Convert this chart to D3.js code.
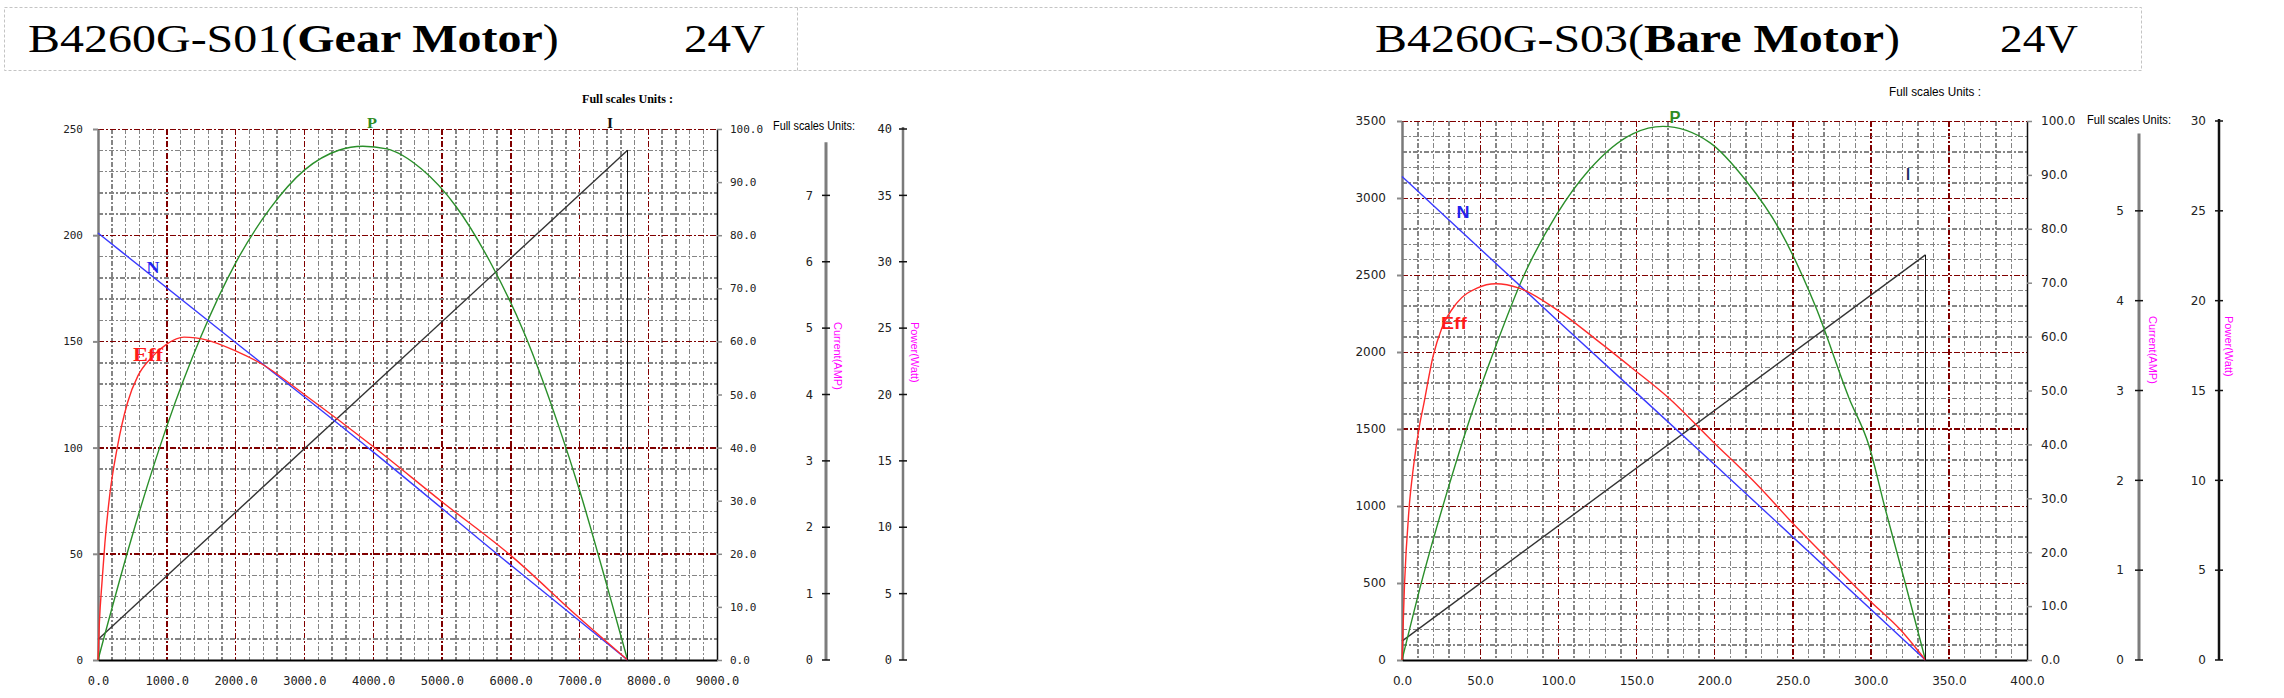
<!DOCTYPE html>
<html>
<head>
<meta charset="utf-8">
<script src="https://cdn.jsdelivr.net/npm/d3@7"></script>
<style>
body { margin: 0; background: #fff; }
svg { display: block; }
</style>
</head>
<body>
<script>
var w = 2284;
var h = 698;

// B4260G-S01 gear motor, x = torque
var gearSpeed = [[0, 201], [2000, 149.5], [4000, 98], [6000, 44.7], [7700, 0]];
var gearEff = [[0, 0], [20, 7], [60, 15], [100, 22], [170, 31], [280, 40], [430, 48.5], [580, 53.5],
    [780, 57], [1000, 59.5], [1250, 60.8], [1600, 60.2], [2000, 58.2], [2400, 55.6], [3000, 50],
    [4000, 40.2], [5000, 29.8], [6000, 19.7], [7000, 7.9], [7700, 0]];
var gearPower = [[0, 0], [500, 9.4], [1000, 17.6], [1500, 24.4], [2000, 29.9], [2500, 34], [3000, 36.9],
    [3500, 38.4], [3850, 38.7], [4200, 38.5], [4700, 37], [5200, 34.2], [5700, 30], [6200, 24.6],
    [6700, 17.6], [7000, 12.8], [7400, 5.6], [7700, 0]];
var gearCurrent = [[0, 0.31], [7700, 7.68]];

// B4260G-S03 bare motor
var bareSpeed = [[0, 3140], [100, 2200], [200, 1270], [335, 0]];
var bareEff = [[0, 0], [1.6, 14], [4.5, 28], [7.4, 36], [11.5, 44], [13.6, 47], [20, 56.5], [25.4, 61.5],
    [35, 66.2], [48, 69], [60, 69.8], [75, 69], [99, 65], [124.5, 59.4], [148, 54], [170, 48.8],
    [199, 40.5], [229, 32], [249, 25.7], [271, 19.2], [299, 11.1], [319, 5.6], [335, 0]];
var barePower = [[0, 0], [13, 4.5], [29, 9.4], [48, 14.6], [58, 17], [78, 21.4], [99, 24.8], [120, 27.3],
    [148, 29.3], [167, 29.7], [197, 28.8], [220, 26.7], [242, 23.9], [265, 19.6], [286, 14.6],
    [299, 11.9], [309, 8.5], [322, 4.3], [335, 0]];
var bareCurrent = [[0, 0.21], [335, 4.51]];

// tick labels
var gearTorqueTicks = [0, 1000, 2000, 3000, 4000, 5000, 6000, 7000, 8000, 9000];
var gearSpeedTicks = [0, 50, 100, 150, 200, 250];
var gearCurrentTicks = [0, 1, 2, 3, 4, 5, 6, 7];
var gearPowerTicks = [0, 5, 10, 15, 20, 25, 30, 35, 40];
var bareTorqueTicks = [0, 50, 100, 150, 200, 250, 300, 350, 400];
var bareSpeedTicks = [0, 500, 1000, 1500, 2000, 2500, 3000, 3500];
var bareCurrentTicks = [0, 1, 2, 3, 4, 5];
var barePowerTicks = [0, 5, 10, 15, 20, 25, 30];
var pctTicks = [0, 10, 20, 30, 40, 50, 60, 70, 80, 90, 100];

var charts = [
    {
        title: ["B4260G-S01(", "Gear Motor", ")"], titleX: 28, titleW: 531, voltX: 684, voltW: 81,
        left: 98, right: 717, top: 129, bottom: 660,
        xMax: 9000, xTicks: gearTorqueTicks, xMinor: 200, xMajor: 1000,
        yMax: 250, yTicks: gearSpeedTicks, yMinor: 10, yMajor: 50,
        curMax: 8, curTop: 7.8, curTicks: gearCurrentTicks, curX: 826, curLab: 13, curRot: 8,
        powMax: 40, powTicks: gearPowerTicks, powX: 903, powLab: 11, powRot: 8, powColor: "#7a7a7a",
        speed: gearSpeed, eff: gearEff, power: gearPower, current: gearCurrent,
        numFont: "DejaVu Sans Mono", numSize: 11, sideSize: 12, pctPad: 8, leftPad: 10,
        nameFont: "Liberation Serif",
        names: { N: [153, 273, 17, 13], Eff: [148, 361, 18, 30], P: [372, 128, 15, 10], I: [610, 128, 15, 6] },
        units1: [582, 103, 91, "Liberation Serif", "bold"], units2: [773, 130, 82],
        rotY: 322
    },
    {
        title: ["B4260G-S03(", "Bare Motor", ")"], titleX: 1375, titleW: 525, voltX: 2000, voltW: 78,
        left: 1402, right: 2027, top: 121, bottom: 660,
        xMax: 400, xTicks: bareTorqueTicks, xMinor: 10, xMajor: 50,
        yMax: 3500, yTicks: bareSpeedTicks, yMinor: 100, yMajor: 500,
        curMax: 6, curTop: 5.86, curTicks: bareCurrentTicks, curX: 2139, curLab: 15, curRot: 10,
        powMax: 30, powTicks: barePowerTicks, powX: 2219, powLab: 13, powRot: 6, powColor: "#111",
        speed: bareSpeed, eff: bareEff, power: barePower, current: bareCurrent,
        numFont: "DejaVu Sans", numSize: 12, sideSize: 12, pctPad: 9, leftPad: 11,
        nameFont: "Liberation Sans",
        names: { N: [1463, 218, 16, 13], Eff: [1454, 329, 17, 26], P: [1675, 123, 16, 11], I: [1908, 180, 16, 4] },
        units1: [1889, 96, 92, "Liberation Sans", "normal"], units2: [2087, 124, 84],
        rotY: 316
    }
];

var svg = d3.select("body")
    .append("svg")
    .attr("width", w)
    .attr("height", h);

// header box
svg.append("rect")
    .attr("x", 4.5).attr("y", 7.5).attr("width", 2137).attr("height", 63)
    .attr("fill", "none").attr("stroke", "#c4c4c4").attr("stroke-dasharray", "3,2");
svg.append("line")
    .attr("x1", 797.5).attr("x2", 797.5).attr("y1", 7.5).attr("y2", 70.5)
    .attr("stroke", "#c4c4c4").attr("stroke-dasharray", "3,2");

function fitWidth(sel, x, y, target) {
    var len = sel.node().getComputedTextLength();
    sel.attr("transform", "translate(" + x + "," + y + ") scale(" + (target / len) + ",1)");
}

function snap(p, thick) {
    return thick ? Math.round(p) : Math.floor(p) + 0.5;
}

charts.forEach(function(c) {
    var x = d3.scaleLinear().domain([0, c.xMax]).range([c.left, c.right]);
    var y = d3.scaleLinear().domain([0, c.yMax]).range([c.bottom, c.top]);
    var yPct = d3.scaleLinear().domain([0, 100]).range([c.bottom, c.top]);
    var yCur = d3.scaleLinear().domain([0, c.curMax]).range([c.bottom, c.top]);
    var yPow = d3.scaleLinear().domain([0, c.powMax]).range([c.bottom, c.top]);

    // title
    var t = svg.append("text")
        .attr("font-family", "Liberation Serif").attr("font-size", 41).attr("fill", "#000");
    t.append("tspan").text(c.title[0]);
    t.append("tspan").attr("font-weight", "bold").text(c.title[1]);
    t.append("tspan").text(c.title[2]);
    fitWidth(t, c.titleX, 52, c.titleW);
    var v = svg.append("text")
        .attr("font-family", "Liberation Serif").attr("font-size", 41).text("24V");
    fitWidth(v, c.voltX, 52, c.voltW);

    var g = svg.append("g");

    // grid: vertical
    var vx = d3.range(1, Math.round(c.xMax / c.xMinor)).map(function(i) { return i * c.xMinor; });
    g.append("g").selectAll("line")
        .data(vx)
        .enter().append("line")
        .each(function(d) {
            var p = x(d), thick = (p % 1) > 0.6, major = d % c.xMajor === 0;
            d3.select(this)
                .attr("x1", snap(p, thick)).attr("x2", snap(p, thick))
                .attr("y1", c.top).attr("y2", c.bottom)
                .attr("stroke", major ? "#800000" : "#858585")
                .attr("stroke-width", thick ? 2 : 1)
                .attr("stroke-dasharray", major ? "6,2,2,2" : "5,2,2,2");
        });

    // grid: horizontal
    var hy = d3.range(1, Math.round(c.yMax / c.yMinor) + 1).map(function(i) { return i * c.yMinor; });
    g.append("g").selectAll("line")
        .data(hy)
        .enter().append("line")
        .each(function(d) {
            var p = y(d), thick = (p % 1) > 0.6, major = d % c.yMajor === 0;
            d3.select(this)
                .attr("y1", snap(p, thick)).attr("y2", snap(p, thick))
                .attr("x1", c.left).attr("x2", c.right)
                .attr("stroke", major ? "#800000" : "#858585")
                .attr("stroke-width", thick ? 2 : 1)
                .attr("stroke-dasharray", major ? "6,2,2,2" : "5,2,2,2");
        });

    // left axis
    var la = g.append("g")
        .attr("transform", "translate(" + c.left + ",0)")
        .call(d3.axisLeft(y).tickValues(c.yTicks).tickSize(5).tickSizeOuter(0)
            .tickPadding(c.leftPad).tickFormat(d3.format("d")));
    la.select(".domain").attr("stroke", "#7a7a7a").attr("stroke-width", 2.5);
    la.selectAll(".tick line").attr("stroke", "#8a8a8a").attr("stroke-width", 2);

    // bottom axis
    var ba = g.append("g")
        .attr("transform", "translate(0," + c.bottom + ")")
        .call(d3.axisBottom(x).tickValues(c.xTicks).tickSize(0).tickSizeOuter(0)
            .tickPadding(16).tickFormat(d3.format(".1f")));
    ba.select(".domain").attr("stroke", "#000").attr("stroke-width", 2);

    // right percentage axis
    var ra = g.append("g")
        .attr("transform", "translate(" + c.right + ",0)")
        .call(d3.axisRight(yPct).tickValues(pctTicks).tickSize(5).tickSizeOuter(0)
            .tickPadding(c.pctPad).tickFormat(d3.format(".1f")));
    ra.select(".domain").attr("stroke", "#111").attr("stroke-width", 1.5);
    ra.selectAll(".tick line").attr("stroke", "#8a8a8a").attr("stroke-width", 1.5);

    [la, ra].forEach(function(a) {
        a.selectAll("text").attr("font-family", c.numFont).attr("font-size", c.numSize).attr("fill", "#222");
    });
    ba.selectAll("text").attr("font-family", c.numFont).attr("font-size", 12).attr("fill", "#222");

    // current axis
    g.append("line")
        .attr("x1", c.curX).attr("x2", c.curX)
        .attr("y1", yCur(0)).attr("y2", yCur(c.curTop))
        .attr("stroke", "#7d7d7d").attr("stroke-width", 3);
    var ct = g.append("g").selectAll("g")
        .data(c.curTicks)
        .enter().append("g")
        .attr("transform", function(d) { return "translate(" + c.curX + "," + yCur(d) + ")"; });
    ct.append("line").attr("x1", -4).attr("x2", 4).attr("stroke", "#111").attr("stroke-width", 1.5);
    ct.append("text")
        .attr("x", -c.curLab).attr("dy", "0.35em").attr("text-anchor", "end")
        .attr("font-family", c.numFont).attr("font-size", c.sideSize).attr("fill", "#222")
        .text(function(d) { return d; });

    // power axis
    g.append("line")
        .attr("x1", c.powX).attr("x2", c.powX)
        .attr("y1", yPow(0)).attr("y2", yPow(c.powMax) - 2)
        .attr("stroke", c.powColor).attr("stroke-width", 2.5);
    var pt = g.append("g").selectAll("g")
        .data(c.powTicks)
        .enter().append("g")
        .attr("transform", function(d) { return "translate(" + c.powX + "," + yPow(d) + ")"; });
    pt.append("line").attr("x1", -4).attr("x2", 4).attr("stroke", "#111").attr("stroke-width", 1.5);
    pt.append("text")
        .attr("x", -c.powLab).attr("dy", "0.35em").attr("text-anchor", "end")
        .attr("font-family", c.numFont).attr("font-size", c.sideSize).attr("fill", "#222")
        .text(function(d) { return d; });

    // rotated unit labels
    [["Current(AMP)", c.curX + c.curRot], ["Power(Watt)", c.powX + c.powRot]].forEach(function(r) {
        svg.append("text")
            .attr("transform", "translate(" + r[1] + "," + c.rotY + ") rotate(90)")
            .attr("font-family", "Liberation Sans").attr("font-size", 11)
            .attr("fill", "#ff00ff")
            .text(r[0]);
    });

    // "Full scales Units" captions
    svg.append("text")
        .attr("x", c.units1[0]).attr("y", c.units1[1])
        .attr("font-family", c.units1[3]).attr("font-weight", c.units1[4]).attr("font-size", 12)
        .attr("textLength", c.units1[2]).attr("lengthAdjust", "spacingAndGlyphs")
        .text("Full scales Units :");
    svg.append("text")
        .attr("x", c.units2[0]).attr("y", c.units2[1])
        .attr("font-family", "Liberation Sans").attr("font-size", 12)
        .attr("textLength", c.units2[2]).attr("lengthAdjust", "spacingAndGlyphs")
        .text("Full scales Units:");

    // curves
    function curve(data, ys, color) {
        var line = d3.line()
            .x(function(d) { return x(d[0]); })
            .y(function(d) { return ys(d[1]); })
            .curve(d3.curveMonotoneX);
        g.append("path")
            .datum(data)
            .attr("d", line)
            .attr("fill", "none")
            .attr("stroke", color)
            .attr("stroke-width", 1.4);
    }
    curve(c.current, yCur, "#333");
    curve(c.power, yPow, "#2a8f2a");
    curve(c.speed, y, "#3a3aff");
    curve(c.eff, yPct, "#ff2a2a");

    // stall line from end of current curve
    var last = c.current[c.current.length - 1];
    g.append("line")
        .attr("x1", Math.floor(x(last[0])) + 0.5).attr("x2", Math.floor(x(last[0])) + 0.5)
        .attr("y1", yCur(last[1])).attr("y2", c.bottom)
        .attr("stroke", "#111").attr("stroke-width", 1);

    // curve names
    var nameStyle = { N: "#2222ee", Eff: "#ff1a1a", P: "#2e8b22", I: c.nameFont === "Liberation Serif" ? "#111" : "#1e2f66" };
    Object.keys(c.names).forEach(function(k) {
        var n = c.names[k];
        svg.append("text")
            .attr("x", n[0] - n[3] / 2).attr("y", n[1])
            .attr("font-family", c.nameFont).attr("font-weight", "bold")
            .attr("font-size", n[2]).attr("fill", nameStyle[k])
            .attr("textLength", n[3]).attr("lengthAdjust", "spacingAndGlyphs")
            .text(k);
    });
});
</script>
</body>
</html>
